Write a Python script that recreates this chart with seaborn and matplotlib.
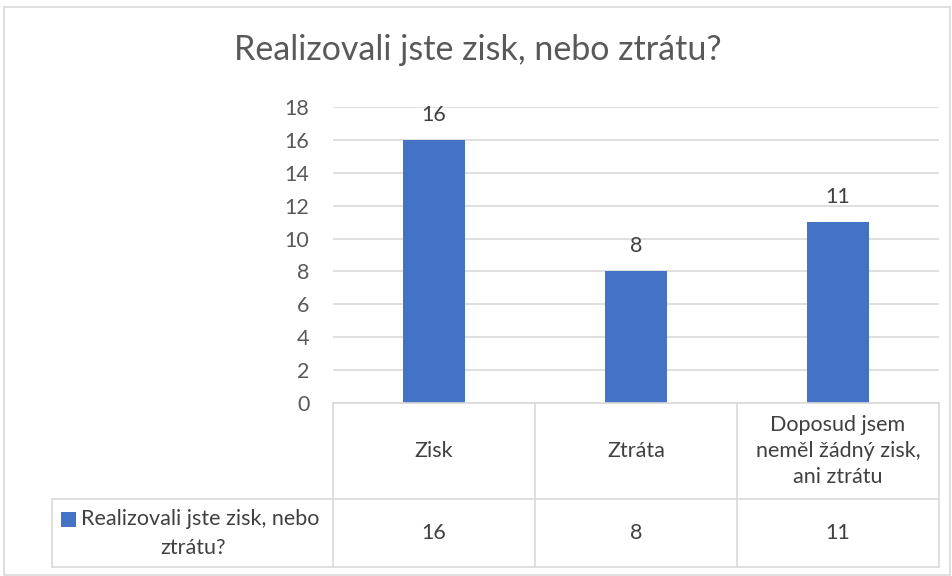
import pandas as pd
import seaborn as sns
import matplotlib.pyplot as plt
from matplotlib.lines import Line2D
from matplotlib.patches import Rectangle

# data
categories = ["Zisk", "Ztráta", "Doposud jsem neměl žádný zisk, ani ztrátu"]
table_labels = ["Zisk", "Ztráta", "Doposud jsem\nneměl žádný zisk,\nani ztrátu"]
values = [16, 8, 11]
series_line1 = "Realizovali jste zisk, nebo"
series_line2 = "ztrátu?"
title = "Realizovali jste zisk, nebo ztrátu?"

W, H = 952, 576
BLUE = "#4472C4"
TXT = "#595959"
DARK = "#404040"
GRID = "#D9D9D9"
FS = 15.5

sns.set_theme(style="white")
plt.rcParams['font.family'] = ['Lato', 'DejaVu Sans']

fig = plt.figure(figsize=(W / 100, H / 100), dpi=100)

# plot area in pixels
left, right, top, bottom = 333, 939, 107, 403
ax = fig.add_axes([left / W, 1 - bottom / H, (right - left) / W, (bottom - top) / H])

df = pd.DataFrame({"cat": categories, "val": values})
sns.barplot(data=df, x="cat", y="val", color=BLUE, width=0.31, ax=ax, zorder=3)
for p in ax.patches:
    p.set_edgecolor("none")
    p.set_facecolor(BLUE)

ax.set_xlim(-0.5, len(categories) - 0.5)
ax.set_ylim(0, 18)
ax.set_yticks(range(0, 19, 2))
ax.yaxis.grid(True, color=GRID, linewidth=1.2)
ax.set_axisbelow(True)
for s in ax.spines.values():
    s.set_visible(False)
ax.set_xticks([])
ax.set_xlabel("")
ax.set_ylabel("")
ax.tick_params(axis="y", length=0, labelsize=FS, labelcolor=TXT, pad=17)

for i, v in enumerate(values):
    ax.annotate(str(v), (i, v), xytext=(0, 18), textcoords="offset points",
                ha="center", va="center", fontsize=FS, color=DARK)

# title
fig.text(478 / W, 1 - 50 / H, title, ha="center", va="center", fontsize=24.5, color=TXT)

# helper for figure pixel coords
def fx(x):
    return x / W

def fy(y):
    return 1 - y / H

def hline(y, x0, x1):
    fig.add_artist(Line2D([fx(x0), fx(x1)], [fy(y), fy(y)], color=GRID, lw=1.2))

def vline(x, y0, y1):
    fig.add_artist(Line2D([fx(x), fx(x)], [fy(y0), fy(y1)], color=GRID, lw=1.2))

# chart border
fig.add_artist(Rectangle((fx(4), fy(575)), fx(946), 568 / H, fill=False, edgecolor=GRID, lw=1.2))

# data table
col_edges = [333, 535, 737, 939]
row_mid, row_bot, tab_left = 499, 567, 52
hline(bottom, left, right)
hline(row_mid, tab_left, right)
hline(row_bot, tab_left, right)
for x in col_edges:
    vline(x, bottom, row_bot)
vline(tab_left, row_mid, row_bot)

for i, lab in enumerate(table_labels):
    cx = (col_edges[i] + col_edges[i + 1]) / 2
    fig.text(fx(cx), fy(451), lab, ha="center", va="center", fontsize=FS,
             color=DARK, linespacing=1.4)
    fig.text(fx(cx), fy(533), str(values[i]), ha="center", va="center", fontsize=FS, color=DARK)

# legend key + series name
fig.add_artist(Rectangle((fx(61), fy(527)), 15 / W, 15 / H, facecolor=BLUE, edgecolor="none"))
fig.text(fx(81), fy(519), series_line1, ha="left", va="center", fontsize=FS, color=DARK)
fig.text(fx(193), fy(548), series_line2, ha="center", va="center", fontsize=FS, color=DARK)

fig.savefig("out.png", dpi=100)
